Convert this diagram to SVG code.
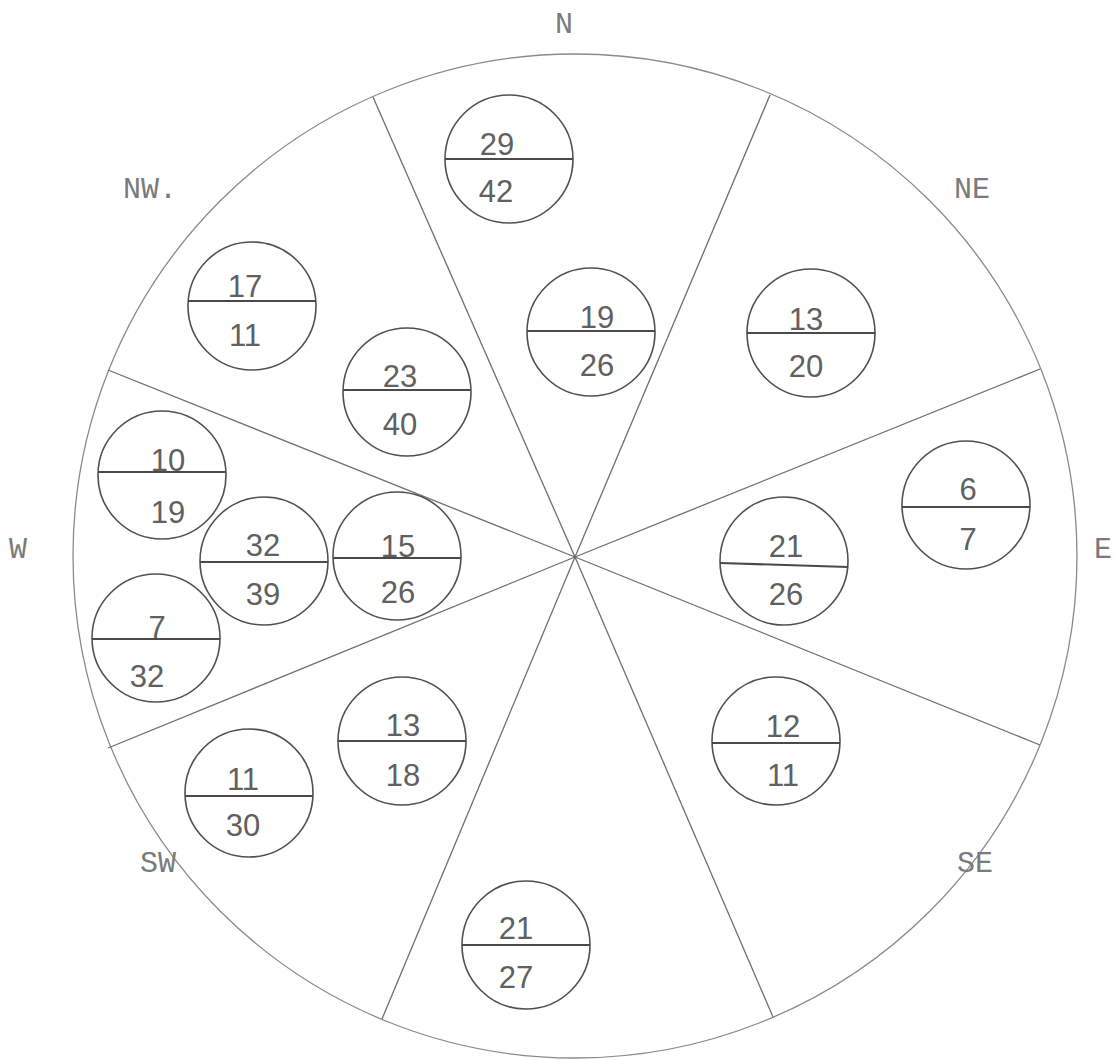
<svg xmlns="http://www.w3.org/2000/svg" width="1116" height="1060" viewBox="0 0 1116 1060">
<style>
.bg{fill:#ffffff}
.outer{fill:none;stroke:#8a8a8a;stroke-width:1.3}
.spoke{stroke:#6e6e6e;stroke-width:1.3}
.node{fill:none;stroke:#505050;stroke-width:1.6}
.div{stroke:#4a4a4a;stroke-width:2}
.num{font-family:"Liberation Sans",Arial,sans-serif;font-size:31px;fill:#606060;text-anchor:middle}
.lbl{font-family:"Liberation Mono","Courier New",monospace;font-size:30px;fill:#7a7a7a;text-anchor:middle}
</style>
<rect class="bg" x="0" y="0" width="1116" height="1060"/>
<g id="rose">
<circle class="outer" cx="575" cy="556" r="502"/>
</g>
<g id="connectors">
<line class="spoke" x1="575" y1="557" x2="373" y2="97"/>
<line class="spoke" x1="575" y1="557" x2="770" y2="95"/>
<line class="spoke" x1="575" y1="557" x2="1040" y2="369"/>
<line class="spoke" x1="575" y1="557" x2="1040" y2="745"/>
<line class="spoke" x1="575" y1="557" x2="773" y2="1017"/>
<line class="spoke" x1="575" y1="557" x2="382" y2="1019"/>
<line class="spoke" x1="575" y1="557" x2="108" y2="748"/>
<line class="spoke" x1="575" y1="557" x2="108" y2="370"/>
</g>
<g id="labels">
<text class="lbl" x="564" y="33">N</text>
<text class="lbl" x="972" y="198">NE</text>
<text class="lbl" x="150" y="198">NW.</text>
<text class="lbl" x="18" y="558">W</text>
<text class="lbl" x="1103" y="558">E</text>
<text class="lbl" x="158" y="872">SW</text>
<text class="lbl" x="975" y="872">SE</text>
</g>
<g id="node-n1"><circle class="node" cx="509" cy="159" r="64"/><line class="div" x1="445" y1="159" x2="573" y2="159"/><text class="num" x="497" y="155">29</text><text class="num" x="496" y="202">42</text></g>
<g id="node-n2"><circle class="node" cx="591" cy="332" r="64"/><line class="div" x1="527" y1="331" x2="655" y2="331"/><text class="num" x="597" y="328">19</text><text class="num" x="597" y="376">26</text></g>
<g id="node-ne"><circle class="node" cx="811" cy="333" r="64"/><line class="div" x1="747" y1="333" x2="875" y2="333"/><text class="num" x="806" y="330">13</text><text class="num" x="806" y="377">20</text></g>
<g id="node-nw1"><circle class="node" cx="252" cy="306" r="64"/><line class="div" x1="188" y1="301" x2="316" y2="301"/><text class="num" x="245" y="297">17</text><text class="num" x="245" y="346">11</text></g>
<g id="node-nw2"><circle class="node" cx="407" cy="392" r="64"/><line class="div" x1="343" y1="390" x2="471" y2="390"/><text class="num" x="400" y="387">23</text><text class="num" x="400" y="435">40</text></g>
<g id="node-e1"><circle class="node" cx="966" cy="505" r="64"/><line class="div" x1="902" y1="507" x2="1030" y2="507"/><text class="num" x="968" y="500">6</text><text class="num" x="968" y="550">7</text></g>
<g id="node-e2"><circle class="node" cx="784" cy="561" r="64"/><line class="div" x1="720" y1="563" x2="848" y2="567"/><text class="num" x="786" y="557">21</text><text class="num" x="786" y="605">26</text></g>
<g id="node-se"><circle class="node" cx="776" cy="741" r="64"/><line class="div" x1="712" y1="743" x2="840" y2="743"/><text class="num" x="783" y="737">12</text><text class="num" x="783" y="786">11</text></g>
<g id="node-s"><circle class="node" cx="526" cy="945" r="64"/><line class="div" x1="462" y1="945" x2="590" y2="945"/><text class="num" x="516" y="939">21</text><text class="num" x="516" y="988">27</text></g>
<g id="node-sw1"><circle class="node" cx="249" cy="793" r="64"/><line class="div" x1="185" y1="796" x2="313" y2="796"/><text class="num" x="243" y="790">11</text><text class="num" x="243" y="836">30</text></g>
<g id="node-sw2"><circle class="node" cx="402" cy="741" r="64"/><line class="div" x1="338" y1="741" x2="466" y2="741"/><text class="num" x="403" y="736">13</text><text class="num" x="403" y="786">18</text></g>
<g id="node-w1"><circle class="node" cx="162" cy="475" r="64"/><line class="div" x1="98" y1="472" x2="226" y2="472"/><text class="num" x="168" y="471">10</text><text class="num" x="168" y="523">19</text></g>
<g id="node-w2"><circle class="node" cx="264" cy="561" r="64"/><line class="div" x1="200" y1="562" x2="328" y2="562"/><text class="num" x="263" y="556">32</text><text class="num" x="263" y="605">39</text></g>
<g id="node-w3"><circle class="node" cx="397" cy="556" r="64"/><line class="div" x1="333" y1="558" x2="461" y2="558"/><text class="num" x="398" y="557">15</text><text class="num" x="398" y="603">26</text></g>
<g id="node-w4"><circle class="node" cx="156" cy="638" r="64"/><line class="div" x1="92" y1="639" x2="220" y2="639"/><text class="num" x="157" y="638">7</text><text class="num" x="147" y="687">32</text></g>
</svg>
